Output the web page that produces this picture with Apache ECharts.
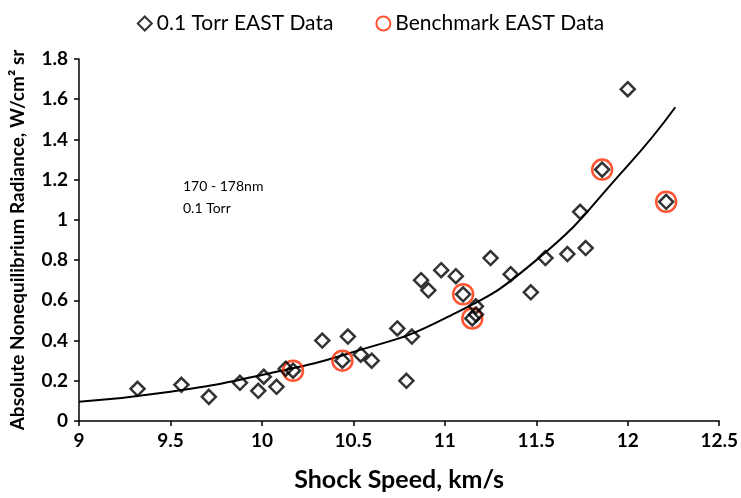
<!DOCTYPE html>
<html>
<head>
<meta charset="utf-8">
<script src="https://cdn.jsdelivr.net/npm/echarts@6/dist/echarts.min.js"></script>
<style>
html,body{margin:0;padding:0;background:#fff;}
#chart{width:741px;height:498px;}
</style>
</head>
<body>
<div id="chart"></div>
<script>
// 0.1 Torr EAST data: [shock speed km/s, radiance]
const eastSpeed = [9.32, 9.56, 9.71, 9.88, 9.98, 10.01, 10.08, 10.13, 10.17, 10.33, 10.44, 10.47, 10.54, 10.60, 10.74, 10.79, 10.82, 10.87, 10.91, 10.98, 11.06, 11.10, 11.17, 11.15, 11.17, 11.25, 11.36, 11.47, 11.55, 11.67, 11.74, 11.77, 11.86, 12.00, 12.21];
const eastRad   = [0.16, 0.18, 0.12, 0.19, 0.15, 0.22, 0.17, 0.26, 0.25, 0.40, 0.30, 0.42, 0.33, 0.30, 0.46, 0.20, 0.42, 0.70, 0.65, 0.75, 0.72, 0.63, 0.57, 0.51, 0.53, 0.81, 0.73, 0.64, 0.81, 0.83, 1.04, 0.86, 1.25, 1.65, 1.09];
// Benchmark EAST data
const benchSpeed = [10.17, 10.44, 11.10, 11.15, 11.86, 12.21];
const benchRad   = [0.25, 0.30, 0.63, 0.51, 1.25, 1.09];
// Trend curve
const fitSpeed = [9.0, 9.5, 10.0, 10.5, 11.0, 11.5, 12.0, 12.26];
const fitRad   = [0.096, 0.146, 0.229, 0.343, 0.51, 0.80, 1.27, 1.56];

const zip = (a, b) => a.map((v, i) => [v, b[i]]);
const FONT = 'Lato';

const chart = echarts.init(document.getElementById('chart'), null, {renderer: 'canvas'});
chart.setOption({
  animation: false,
  backgroundColor: '#fff',
  textStyle: {fontFamily: FONT},
  grid: {left: 79, right: 19, top: 59, bottom: 77, containLabel: false},
  legend: {
    top: 8, left: 'center',
    itemGap: 42, itemWidth: 14, itemHeight: 14,
    textStyle: {fontFamily: FONT, fontSize: 21, color: '#000'},
    data: ['0.1 Torr EAST Data', 'Benchmark EAST Data']
  },
  xAxis: {
    type: 'value', min: 9, max: 12.5, interval: 0.5,
    name: 'Shock Speed, km/s', nameLocation: 'middle', nameGap: 46,
    nameTextStyle: {fontFamily: FONT, fontSize: 25, fontWeight: 'bold', color: '#000'},
    axisLine: {lineStyle: {color: '#000', width: 1.5}},
    axisTick: {show: true, inside: false, length: 5, lineStyle: {color: '#000', width: 1.5}},
    axisLabel: {fontFamily: FONT, fontSize: 19, fontWeight: 'bold', color: '#000', margin: 10},
    splitLine: {show: false}
  },
  yAxis: {
    type: 'value', min: 0, max: 1.8, interval: 0.2,
    name: 'Absolute Nonequilibrium Radiance, W/cm² sr', nameLocation: 'middle', nameGap: 52,
    nameTextStyle: {fontFamily: FONT, fontSize: 19, fontWeight: 'bold', color: '#000'},
    axisLine: {show: true, lineStyle: {color: '#000', width: 1.5}},
    axisTick: {show: true, inside: false, length: 5, lineStyle: {color: '#000', width: 1.5}},
    axisLabel: {fontFamily: FONT, fontSize: 19, fontWeight: 'bold', color: '#000', margin: 11,
      formatter: v => String(Math.round(v * 10) / 10)},
    splitLine: {show: false}
  },
  graphic: [
    {type: 'text', left: 183, top: 179, style: {text: '170 - 178nm', font: '14px ' + FONT, fill: '#000'}},
    {type: 'text', left: 183, top: 201, style: {text: '0.1 Torr', font: '14px ' + FONT, fill: '#000'}}
  ],
  series: [
    {
      name: 'fit', type: 'line', smooth: true, showSymbol: false, symbol: 'none',
      data: zip(fitSpeed, fitRad), z: 1,
      lineStyle: {color: '#000', width: 2}, silent: true
    },
    {
      name: '0.1 Torr EAST Data', type: 'scatter', symbol: 'diamond', symbolSize: 14,
      data: zip(eastSpeed, eastRad), z: 3,
      itemStyle: {color: 'rgba(255,255,255,0)', borderColor: '#000', borderWidth: 2.5}
    },
    {
      name: 'Benchmark EAST Data', type: 'scatter', symbol: 'circle', symbolSize: 20,
      data: zip(benchSpeed, benchRad), z: 2,
      itemStyle: {color: 'rgba(255,255,255,0)', borderColor: '#ff2a00', borderWidth: 2.5}
    }
  ]
});
</script>
</body>
</html>
